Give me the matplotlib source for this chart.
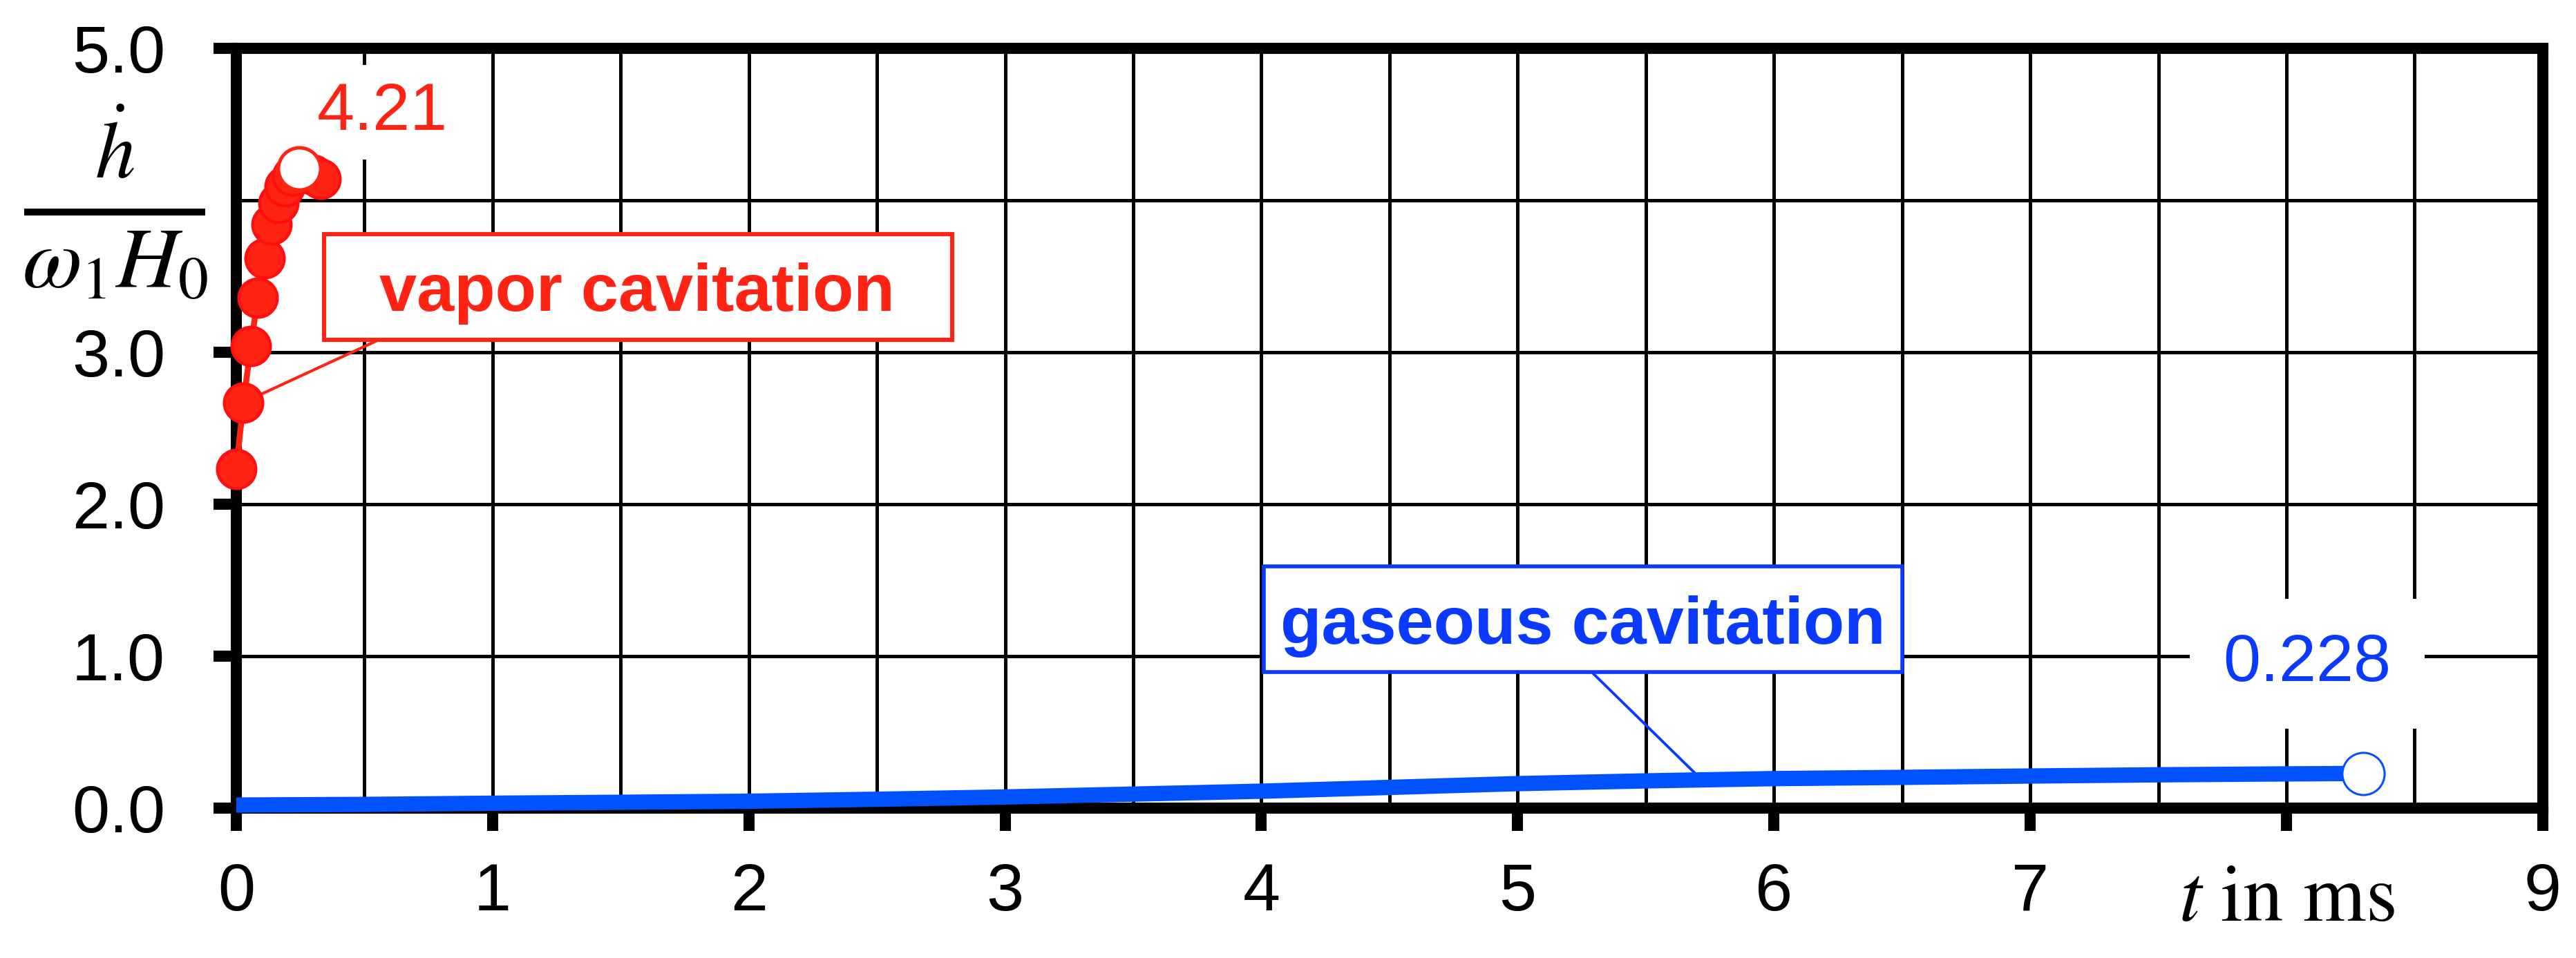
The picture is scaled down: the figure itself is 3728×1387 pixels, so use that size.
import numpy as np
import matplotlib.pyplot as plt
from matplotlib.patches import Rectangle
from matplotlib.transforms import blended_transform_factory

# vapor cavitation (red dots), t in ms
t_vapor = [0.0, 0.028, 0.057, 0.084, 0.111, 0.138, 0.165, 0.19, 0.22, 0.26, 0.30, 0.33]
h_vapor = [2.23, 2.67, 3.04, 3.36, 3.62, 3.84, 3.98, 4.09, 4.16, 4.20, 4.17, 4.14]
t_vapor_peak = 0.246
h_vapor_peak = 4.21

# gaseous cavitation (blue line)
t_gas = [0.0, 0.5, 1.0, 1.5, 2.0, 2.5, 3.0, 3.5, 4.0, 4.5, 5.0, 5.5, 6.0, 6.5, 7.0, 7.5, 8.0, 8.3]
h_gas = [0.020, 0.024, 0.032, 0.038, 0.045, 0.058, 0.073, 0.092, 0.111, 0.136,
         0.161, 0.179, 0.194, 0.202, 0.211, 0.219, 0.225, 0.228]
t_gas_end = 8.3
h_gas_end = 0.228

x_ticks = [0, 1, 2, 3, 4, 5, 6, 7, 8, 9]
x_tick_labels = ['0', '1', '2', '3', '4', '5', '6', '7', r'$t\ \mathrm{in\ ms}$', '9']
y_ticks = [0, 1, 2, 3, 4, 5]
y_tick_labels = ['0.0', '1.0', '2.0', '3.0', '', '5.0']
y_label_num = r'$\dot{h}$'
y_label_den = r'$\omega_1 H_0$'

RED = '#ff2314'
RED_EDGE = '#ff0f0f'
BLUE = '#0052ff'
BLUE_TXT = '#0a3aff'

plt.rcParams['font.family'] = ['Liberation Sans', 'DejaVu Sans']
plt.rcParams['mathtext.fontset'] = 'stix'

fig = plt.figure(figsize=(18.64, 6.935), dpi=200)
ax = fig.add_axes([0.0917, 0.1565, 0.8954, 0.793])

ax.set_xlim(0, 9)
ax.set_ylim(0, 5)
ax.set_xticks(x_ticks)
ax.set_xticklabels(x_tick_labels)
ax.set_xticks(np.arange(0, 9.01, 0.5), minor=True)
ax.set_yticks(y_ticks)
ax.set_yticklabels(y_tick_labels)
ax.get_xticklabels()[8].set_fontsize(42)

ax.set_axisbelow(True)
ax.grid(which='both', axis='x', color='black', lw=1.8)
ax.grid(which='major', axis='y', color='black', lw=1.8)
for s in ax.spines.values():
    s.set_linewidth(5.8)
ax.tick_params(which='major', direction='out', length=12, width=5.8, labelsize=35)
ax.tick_params(which='minor', length=0)
ax.tick_params(axis='x', pad=16)
ax.tick_params(axis='y', pad=25)
ax.yaxis.get_major_ticks()[4].tick1line.set_visible(False)
ax.get_xticklabels()[8].set_fontsize(42)

# y label drawn as a fraction where the 4.0 tick label would be
trans = blended_transform_factory(ax.transAxes, ax.transData)
ax.text(-0.0527, 4.145, y_label_num, transform=trans, fontsize=42, ha='center', va='baseline')
ax.plot([-0.092, -0.0135], [3.923, 3.923], transform=trans, color='black', lw=3.6,
        solid_capstyle='butt', clip_on=False)
ax.text(-0.0527, 3.423, y_label_den, transform=trans, fontsize=45, ha='center', va='baseline')

# series
ax.plot(t_gas, h_gas, '-', color=BLUE, lw=8, solid_capstyle='butt', zorder=6, clip_on=False)
ax.plot([t_gas_end], [h_gas_end], 'o', ms=22, mfc='white', mec=BLUE, mew=1.1, zorder=8, clip_on=False)

ax.plot(t_vapor, h_vapor, '-o', color=RED, lw=3.1, ms=20, mfc=RED, mec=RED_EDGE, mew=1.6,
        zorder=6, clip_on=False)
ax.plot([t_vapor_peak], [h_vapor_peak], 'o', ms=22, mfc='white', mec=RED, mew=1.8, zorder=8, clip_on=False)

# value labels
ax.text(0.57, 4.466, f'{h_vapor_peak:.2f}', color=RED, fontsize=35, ha='center', va='baseline',
        bbox=dict(boxstyle='square,pad=0.24', fc='white', ec='none'), zorder=5)
ax.text(8.08, 0.836, f'{h_gas_end:.3f}', color=BLUE_TXT, fontsize=35, ha='center', va='baseline',
        bbox=dict(boxstyle='square,pad=0.5', fc='white', ec='none'), zorder=5)

# callout boxes
ax.add_patch(Rectangle((0.343, 3.083), 2.451, 0.694, fc='white', ec=RED, lw=2.2, zorder=7))
ax.text(1.565, 3.271, 'vapor cavitation', color=RED, fontsize=35, fontweight='bold',
        ha='center', va='baseline', zorder=8)
ax.annotate('', xy=(t_vapor[1], h_vapor[1]), xytext=(0.558, 3.083),
            arrowprops=dict(arrowstyle='-', color=RED, lw=1.5, shrinkA=0, shrinkB=0), zorder=5)

ax.add_patch(Rectangle((4.01, 0.895), 2.49, 0.695, fc='white', ec=BLUE_TXT, lw=2.0, zorder=7))
ax.text(5.255, 1.082, 'gaseous cavitation', color=BLUE_TXT, fontsize=35, fontweight='bold',
        ha='center', va='baseline', zorder=8)
ax.annotate('', xy=(5.71, 0.2), xytext=(5.289, 0.895),
            arrowprops=dict(arrowstyle='-', color=BLUE_TXT, lw=1.4, shrinkA=0, shrinkB=0), zorder=5)

fig.savefig('out.png', dpi=200, facecolor='white')
